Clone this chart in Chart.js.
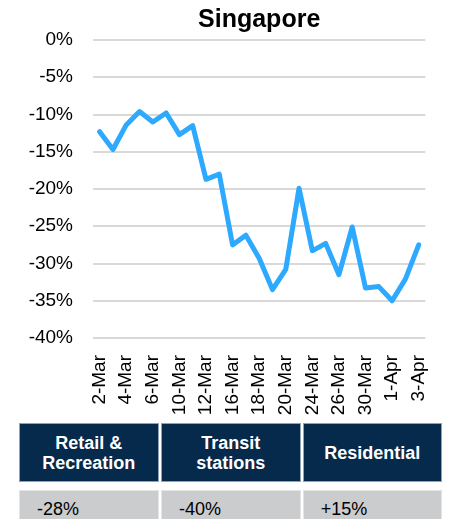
<!DOCTYPE html>
<html>
<head>
<meta charset="utf-8">
<script src="https://cdn.jsdelivr.net/npm/chart.js@4"></script>
<style>
  body { margin: 0; background: #fff; font-family: "Liberation Sans", Arial, sans-serif; }
  #wrap { position: relative; width: 451px; height: 519px; overflow: hidden; }
  #chartBox { position: absolute; left: 0; top: 0; width: 451px; height: 422px; }
  .cell { position: absolute; box-sizing: border-box; }
  .head { top: 423px; height: 59px; background: #062a4b; border: 1px solid #8fa3b8;
          color: #fff; font-weight: bold; font-size: 18px; line-height: 20px;
          display: flex; align-items: center; justify-content: center; text-align: center; }
  .val { top: 490px; height: 40px; background: #cbcccd; border: 1px solid #e4e4e4;
         font-size: 18px; color: #000; padding: 8px 0 0 17px; }
</style>
</head>
<body>
<div id="wrap">
  <div id="chartBox"><canvas id="chart"></canvas></div>
  <div id="table"></div>
</div>
<script>
// weekdays 2-Mar to 3-Apr
const dates = ["2-Mar", "3-Mar", "4-Mar", "5-Mar", "6-Mar", "9-Mar", "10-Mar", "11-Mar", "12-Mar", "13-Mar",
  "16-Mar", "17-Mar", "18-Mar", "19-Mar", "20-Mar", "23-Mar", "24-Mar", "25-Mar", "26-Mar", "27-Mar",
  "30-Mar", "31-Mar", "1-Apr", "2-Apr", "3-Apr"];
const mobility = [-12.3, -14.7, -11.4, -9.6, -11.0, -9.8, -12.7, -11.5, -18.7, -18.0,
  -27.5, -26.2, -29.3, -33.5, -30.8, -19.9, -28.3, -27.3, -31.5, -25.1,
  -33.3, -33.1, -35.0, -32.1, -27.5];
const categories = ["Retail &<br>Recreation", "Transit<br>stations", "Residential"];
const changes = ["-28%", "-40%", "+15%"];

const FONT = "'Liberation Sans', Arial, sans-serif";

new Chart(document.getElementById("chart"), {
  type: "line",
  data: {
    labels: dates,
    datasets: [{
      data: mobility,
      borderColor: "#2da9ff",
      borderWidth: 5,
      borderCapStyle: "round",
      borderJoinStyle: "round",
      pointRadius: 0,
      tension: 0,
      fill: false
    }]
  },
  options: {
    responsive: true,
    maintainAspectRatio: false,
    animation: false,
    layout: { padding: { left: 0, right: 25, top: 0, bottom: 0 } },
    plugins: {
      legend: { display: false },
      tooltip: { enabled: false },
      title: {
        display: true,
        text: "Singapore",
        fullSize: false,
        color: "#000",
        font: { family: FONT, size: 25, weight: "bold" },
        padding: { top: 5, bottom: 5 }
      }
    },
    scales: {
      x: {
        offset: true,
        grid: { display: false },
        border: { display: false },
        ticks: {
          autoSkip: false,
          maxRotation: 90,
          minRotation: 90,
          padding: 9,
          color: "#000",
          font: { family: FONT, size: 19 },
          callback: function (v, i) { return i % 2 === 0 ? dates[i] : ""; }
        },
        afterFit: function (s) { s.height = 84; }
      },
      y: {
        min: -40,
        max: 0,
        grid: { color: "#d9d9d9", lineWidth: 2, drawTicks: false },
        border: { display: false },
        ticks: {
          stepSize: 5,
          padding: 20,
          color: "#000",
          font: { family: FONT, size: 19 },
          callback: function (v) { return v + "%"; }
        },
        afterFit: function (s) { s.width = 93; }
      }
    }
  }
});

// summary table under the chart
const colLeft = [19, 161, 302.7];
const colWidth = [139.5, 139.7, 139];
const table = document.getElementById("table");
categories.forEach((name, i) => {
  table.innerHTML += `<div class="cell head" style="left:${colLeft[i]}px;width:${colWidth[i]}px">${name}</div>`;
  table.innerHTML += `<div class="cell val" style="left:${colLeft[i]}px;width:${colWidth[i]}px">${changes[i]}</div>`;
});
</script>
</body>
</html>
